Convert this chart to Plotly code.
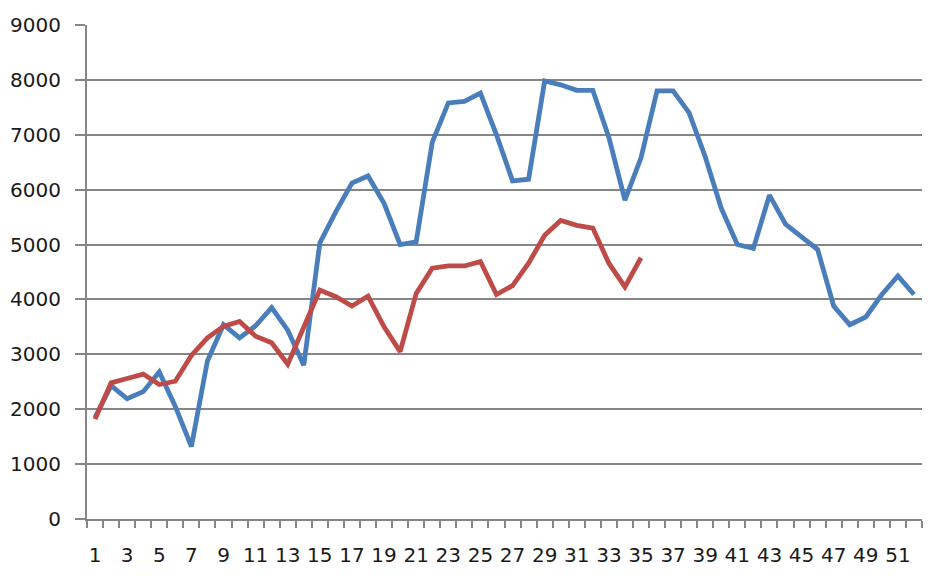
import plotly.graph_objects as go

# weeks 1..52
weeks = list(range(1, 53))

blue_vals = [1850, 2430, 2190, 2320, 2680, 2050, 1320, 2880, 3540, 3300,
             3520, 3850, 3440, 2800, 5030, 5600, 6120, 6250, 5750, 5000,
             5050, 6860, 7580, 7610, 7760, 7000, 6160, 6190, 7980, 7910,
             7810, 7810, 6950, 5810, 6580, 7800, 7800, 7400, 6600, 5660,
             5000, 4930, 5900, 5370, 5140, 4910, 3880, 3540, 3680, 4090,
             4430, 4090]

red_vals = [1820, 2480, 2560, 2640, 2450, 2510, 2980, 3300, 3510, 3600,
            3330, 3210, 2820, 3480, 4170, 4050, 3880, 4060, 3500, 3050,
            4110, 4570, 4610, 4610, 4690, 4090, 4250, 4660, 5170, 5440,
            5350, 5300, 4660, 4230, 4760]

x_labels = [str(w) for w in range(1, 53, 2)]

fig = go.Figure()
fig.add_trace(go.Scatter(x=weeks, y=blue_vals, mode="lines",
                         line=dict(color="#4A7EBB", width=4.8)))
fig.add_trace(go.Scatter(x=weeks[:len(red_vals)], y=red_vals, mode="lines",
                         line=dict(color="#BE4B48", width=4.8)))

# page body has an 8px margin, so the figure is sized down to fit the window
fig.update_layout(
    width=924, height=568,
    margin=dict(l=79, r=10, t=17, b=57),
    paper_bgcolor="white", plot_bgcolor="white",
    showlegend=False,
    font=dict(family="DejaVu Sans", size=20, color="#1a1a1a"),
)
fig.update_xaxes(
    range=[0.5, 52.5], automargin=False,
    tickmode="array", tickvals=list(range(1, 53, 2)), ticktext=x_labels,
    ticks="", showgrid=False, ticklabelstandoff=17,
    showline=True, linecolor="#868686", linewidth=2,
    minor=dict(ticks="outside", tick0=0.5, dtick=1, ticklen=7,
               tickcolor="#868686", tickwidth=1.5, showgrid=False),
    zeroline=False,
)
fig.update_yaxes(
    range=[0, 9000], dtick=1000, automargin=False,
    ticks="outside", ticklen=10, tickcolor="#868686", tickwidth=2,
    ticklabelstandoff=10,
    showgrid=True, gridcolor="#868686", gridwidth=1.5,
    showline=True, linecolor="#868686", linewidth=2,
    zeroline=False,
)

fig.write_html("out.html")
